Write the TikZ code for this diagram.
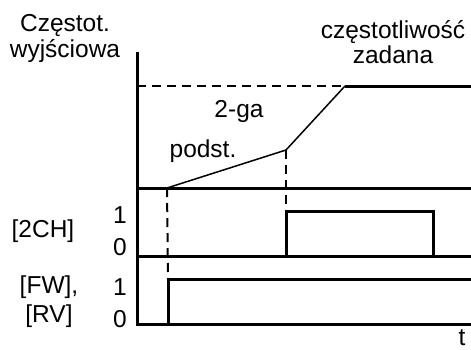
\documentclass[tikz,border=0pt]{standalone}
\usepackage{fontspec}
\setmainfont{Liberation Sans}
\usetikzlibrary{positioning}
\begin{document}
\begin{tikzpicture}[x=1pt,y=-1pt,
    font=\fontsize{24.5}{27}\selectfont,
    lbl/.style={inner sep=0pt,anchor=base},
    sig/.style={line width=3pt},
    ramp/.style={line width=1.5pt},
    guide/.style={line width=2pt,dash pattern=on 9pt off 6pt}]
  \useasboundingbox (0,0) rectangle (471,349);
  % axis and baselines
  \coordinate (ytop) at (137,52);
  \coordinate (orig) at (137,324);
  \coordinate (fbase) at (137,188);
  \coordinate (chbase) at (137,256);
  \coordinate (fend) at (471,188);
  \coordinate (chend) at (471,256);
  \coordinate (tend) at (471,324);
  \draw[sig] (ytop) -- (orig) -- (tend);
  \draw[sig] (fbase) -- (fend);
  \draw[sig] (chbase) -- (chend);
  % output frequency
  \coordinate (start) at (167,188);
  \coordinate (knee) at (286,150);
  \coordinate (reach) at (345,86);
  \coordinate (setl) at (137,86);
  \coordinate (setr) at (471,86);
  \draw[guide] (setl) -- (reach);
  \draw[ramp] (start) -- (knee) -- (reach);
  \draw[sig] (reach) -- (setr);
  % 2CH pulse
  \coordinate (chup) at (286,211);
  \coordinate (chdn) at (433,211);
  \draw[sig] (286,256) -- (chup) -- (chdn) -- (433,256);
  \draw[guide] (knee) -- (chup);
  % FW/RV step
  \coordinate (fwup) at (168,279);
  \coordinate (fwend) at (471,279);
  \draw[sig] (168,324) -- (fwup) -- (fwend);
  \draw[guide] (start) -- (fwup);
  % labels
  \node[lbl] (czest) at (65,31) {Częstot.};
  \node[lbl] (wyjsc) at (65,57) {wyjściowa};
  \node[lbl] (zad1) at (393,38) {częstotliwość};
  \node[lbl] (zad2) at (393,63) {zadana};
  \node[lbl] (druga) at (239,117) {2-ga};
  \node[lbl] (podst) at (203,157) {podst.};
  \node[lbl] (ch) at (43,237) {[2CH]};
  \node[lbl] (chone) at (120,223) {1};
  \node[lbl] (chzero) at (120,255) {0};
  \node[lbl] (fw) at (49,293) {[FW],};
  \node[lbl] (rv) at (49,322) {[RV]};
  \node[lbl] (fwone) at (120,295) {1};
  \node[lbl] (fwzero) at (120,327) {0};
  \node[lbl] (tlbl) at (462,345) {t};
\end{tikzpicture}
\end{document}
